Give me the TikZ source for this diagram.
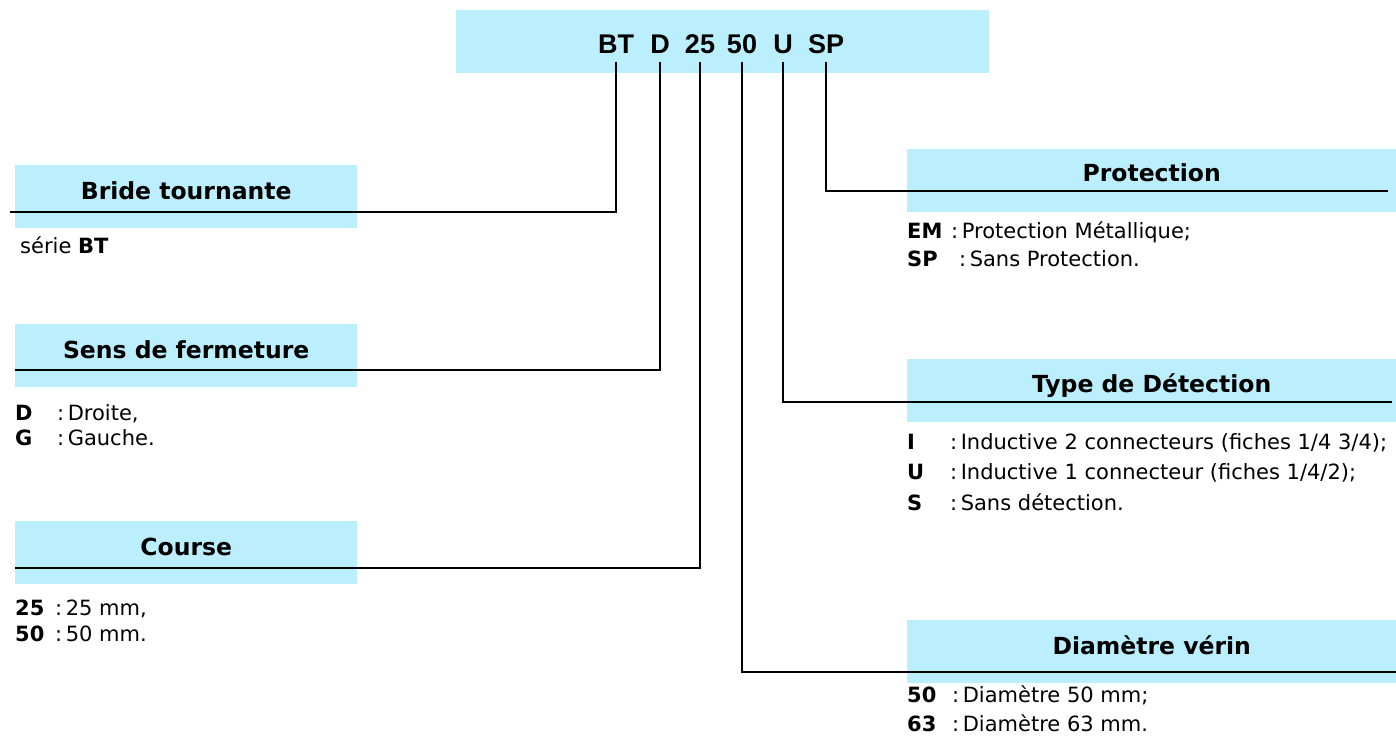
\documentclass[tikz,border=0pt]{standalone}
\usepackage{fontspec}
\setmainfont{DejaVu Sans}
\newfontfamily\codefont{Liberation Sans}
\usepackage{xcolor}

\definecolor{boxcyan}{RGB}{187,239,253}

\tikzset{
  head/.style={fill=boxcyan, inner sep=0pt, anchor=north west, minimum height=63pt},
  headtxt/.style={font=\fontsize{23.5}{28}\selectfont\bfseries, inner sep=0pt, anchor=base},
  code/.style={font=\codefont\fontsize{27}{31}\selectfont\bfseries, inner xsep=0pt, inner ysep=8.5pt, anchor=base},
  item/.style={font=\fontsize{21}{25}\selectfont, inner sep=0pt, anchor=base west},
  wire/.style={line width=2.2pt},
}

\newcommand{\lbl}[3]{\makebox[#1][l]{\textbf{#2}}:\,#3}

\begin{document}
\begin{tikzpicture}[x=1pt, y=-1pt]

    \useasboundingbox[fill=white] (0,0) rectangle (1396,740);

    % Code
    \node[head, minimum width=533pt] (top) at (456,10) {};
    \node[code] (cBT) at (616,53) {BT};
    \node[code] (cD) at (660,53) {D};
    \node[code] (c25) at (700,53) {25};
    \node[code] (c50) at (742,53) {50};
    \node[code] (cU) at (783,53) {U};
    \node[code] (cSP) at (826,53) {SP};

    % Left boxes
    \node[head, minimum width=342pt] (bride) at (15,165) {};
    \node[headtxt] (brideT) at ([yshift=-3pt]bride.center) {Bride tournante};
    \node[head, minimum width=342pt] (sens) at (15,324) {};
    \node[headtxt] (sensT) at ([yshift=-3pt]sens.center) {Sens de fermeture};
    \node[head, minimum width=342pt] (course) at (15,521) {};
    \node[headtxt] (courseT) at ([yshift=-3pt]course.center) {Course};

    % Right boxes
    \node[head, minimum width=489pt] (prot) at (907,149) {};
    \node[headtxt] (protT) at ([yshift=-1pt]prot.center) {Protection};
    \node[head, minimum width=489pt] (det) at (907,359) {};
    \node[headtxt] (detT) at ([yshift=-2pt]det.center) {Type de Détection};
    \node[head, minimum width=489pt] (diam) at (907,620) {};
    \node[headtxt] (diamT) at ([yshift=-3pt]diam.center) {Diamètre vérin};

    % Line ends
    \coordinate (brideEnd) at (10,212);
    \coordinate (sensEnd) at (15,370);
    \coordinate (courseEnd) at (15,568);
    \coordinate (diamEnd) at (1396,672);
    \coordinate (detEnd) at (1392,402);
    \coordinate (protEnd) at (1388,191);

    % Connectors
    \draw[wire] (cBT.south) |- (brideEnd);
    \draw[wire] (cD.south) |- (sensEnd);
    \draw[wire] (c25.south) |- (courseEnd);
    \draw[wire] (c50.south) |- (diamEnd);
    \draw[wire] (cU.south) |- (detEnd);
    \draw[wire] (cSP.south) |- (protEnd);

    % Items
    \node[item] (serie) at (20,253) {série \textbf{BT}};
    \node[item] (sensD) at (15,420) {\lbl{42pt}{D}{Droite,}};
    \node[item] (sensG) at (15,445) {\lbl{42pt}{G}{Gauche.}};
    \node[item] (c25a) at (15,615) {\lbl{40pt}{25}{25 mm,}};
    \node[item] (c50a) at (15,641) {\lbl{40pt}{50}{50 mm.}};
    \node[item] (protEM) at (907,238) {\lbl{44pt}{EM}{Protection Métallique;}};
    \node[item] (protSP) at (907,266) {\lbl{52pt}{SP}{Sans Protection.}};
    \node[item] (detI) at (907,449) {\lbl{43pt}{I}{Inductive 2 connecteurs (fiches 1/4 3/4);}};
    \node[item] (detU) at (907,479) {\lbl{43pt}{U}{Inductive 1 connecteur (fiches 1/4/2);}};
    \node[item] (detS) at (907,510) {\lbl{43pt}{S}{Sans détection.}};
    \node[item] (diam50) at (907,702.5) {\lbl{45pt}{50}{Diamètre 50 mm;}};
    \node[item] (diam63) at (907,731.5) {\lbl{45pt}{63}{Diamètre 63 mm.}};

\end{tikzpicture}
\end{document}
